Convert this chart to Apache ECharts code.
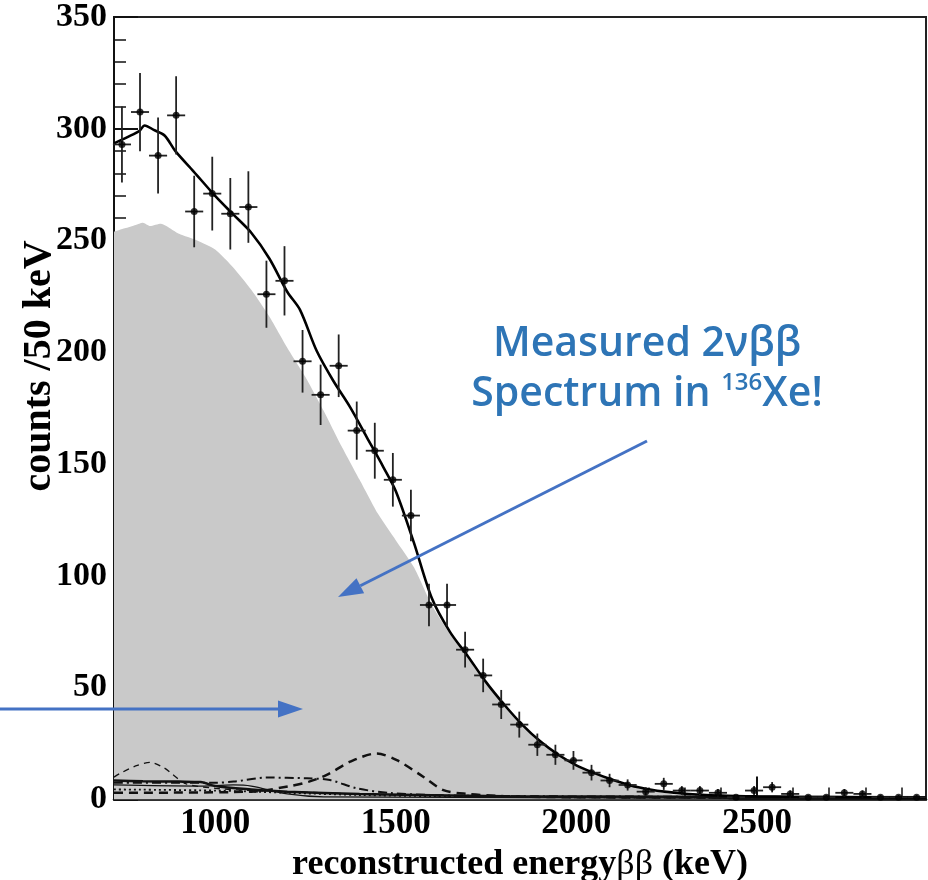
<!DOCTYPE html>
<html>
<head>
<meta charset="utf-8">
<script src="https://cdn.jsdelivr.net/npm/echarts@6/dist/echarts.min.js"></script>
<style>
html,body{margin:0;padding:0;background:#fff;}
#chart{width:928px;height:880px;}
</style>
</head>
<body>
<div id="chart"></div>
<script>
// ---- data ----
const xMajorTicks = [1000, 1500, 2000, 2500];
const xMinorTicks = [800, 900, 1100, 1200, 1300, 1400, 1600, 1700, 1800, 1900, 2100, 2200, 2300, 2400, 2600, 2700, 2800, 2900];

// measured counts (bin centre energies in keV)
const dataEnergy = [742, 792, 842, 892, 942, 992, 1042, 1092, 1142, 1192, 1242, 1292, 1342, 1392, 1442, 1492, 1542, 1592, 1642, 1692, 1742, 1792, 1842, 1892, 1942, 1992, 2042, 2092, 2142, 2192, 2242, 2292, 2342, 2392, 2442, 2492, 2542, 2592, 2642, 2692, 2742, 2792, 2842, 2892, 2942];
const dataCounts = [293, 307.5, 288, 306, 263, 271, 262, 265, 226, 232, 196, 181, 194, 165, 156, 143, 127, 87, 87, 67, 55.5, 42.5, 33.5, 24.5, 20, 17.5, 12, 8.5, 6.5, 3.5, 7, 4, 4, 3, 1, 4, 5.5, 2.5, 1, 1, 3, 2.5, 1, 1, 1];
const dataErrors = [17, 17.5, 17, 17.5, 16, 16.5, 16, 16, 15, 15.5, 14, 13.5, 14, 13, 12.5, 12, 11.5, 9.5, 9.5, 8, 7.5, 6.5, 5.8, 5, 4.5, 4.2, 3.5, 3, 2.5, 2, 2.7, 2, 2, 1.7, 1, 2, 2.3, 1.6, 1, 1, 1.7, 1.6, 1, 1, 1];
const binHalfWidth = 25;

// total fit curve
const fitEnergy = [720, 760, 790, 805, 830, 860, 890, 940, 1000, 1050, 1100, 1150, 1200, 1235, 1281, 1327, 1374, 1420, 1466, 1500, 1550, 1600, 1650, 1700, 1750, 1800, 1850, 1900, 1950, 2000, 2050, 2100, 2150, 2200, 2250, 2300, 2400, 2500, 2600, 2800, 2968];
const fitCounts = [293.5, 296.5, 299, 301.5, 299.5, 297, 290, 281, 270, 261.7, 253.5, 242, 227, 219, 200.7, 187.3, 175.4, 162, 148.6, 138, 115, 90, 75, 64, 52.5, 42.5, 33.5, 26, 20, 15.3, 11.8, 8.8, 6.3, 4.6, 3.4, 2.6, 1.8, 1.4, 1.2, 1.0, 0.9];

// 2vbb component (grey filled)
const bbEnergy = [720, 750, 780, 800, 820, 850, 880, 900, 950, 1000, 1050, 1100, 1150, 1200, 1250, 1300, 1350, 1400, 1450, 1500, 1550, 1600, 1650, 1700, 1750, 1800, 1850, 1900, 1950, 2000, 2050, 2100, 2150, 2200, 2250, 2300, 2350, 2400, 2450, 2968];
const bbCounts = [254, 255.5, 257, 258, 256.5, 257.5, 255, 253, 250, 246, 238, 228, 216, 202, 189, 174, 158, 143, 128, 116, 104, 87, 74, 63, 52, 42, 33.5, 26.5, 21, 15.5, 11.5, 8.5, 6, 4.2, 2.7, 1.6, 0.8, 0.3, 0, 0];

// background components
const bkgDashEnergy = [720, 1100, 1207, 1260, 1309, 1374, 1447, 1503, 1576, 1632, 1697, 1800, 2000, 2968];
const bkgDashCounts = [3, 3.5, 6, 8, 11, 16.9, 20.6, 17.6, 10.2, 4.2, 2.5, 1.5, 1, 0.8];
const bkgThinDashEnergy = [720, 735, 780, 820, 860, 880, 920, 1000, 1100, 1300, 1500, 2000, 2968];
const bkgThinDashCounts = [10, 11.5, 15, 16.6, 14, 11.5, 7, 5, 4, 3, 2, 1, 0.5];
const bkgDashDotEnergy = [720, 900, 1000, 1051, 1143, 1254, 1318, 1392, 1484, 1600, 1800, 2968];
const bkgDashDotCounts = [7.5, 7.5, 7.5, 8, 9.8, 9.5, 8.7, 5, 2.9, 2, 1.5, 1];
const bkgSolidEnergy = [720, 950, 1050, 1100, 1200, 1300, 2968];
const bkgSolidCounts = [6.5, 6, 6.5, 6, 2.5, 1.2, 0.5];
const bkgDotEnergy = [720, 1000, 1200, 1400, 1600, 2000, 2968];
const bkgDotCounts = [4.5, 4, 3, 2, 1.5, 1, 0.5];
const bkgThickEnergy = [720, 800, 900, 960, 1000, 1100, 1200, 1400, 1800, 2968];
const bkgThickCounts = [8.5, 8.2, 8, 7.8, 6, 4.5, 3.5, 2.5, 1.5, 1];

const xTitle = 'reconstructed energy';
const yTitle = 'counts /50 keV';
const noteLine1 = 'Measured 2νββ';
const noteLine2a = 'Spectrum in ';
const noteSup = '136';
const noteLine2b = 'Xe!';

// ---- build ----
function zip(a, b) { return a.map((v, i) => [v, b[i]]); }
const serif = '"Liberation Serif", "Times New Roman", serif';

function bkgSeries(ex, ey, type, width) {
  return {
    type: 'line', data: zip(ex, ey), symbol: 'none', smooth: 0.3,
    lineStyle: { color: '#111', width: width, type: type }, z: 3, silent: true
  };
}

const chart = echarts.init(document.getElementById('chart'), null, { renderer: 'canvas' });

// annotation layout (measure text)
const ctx = document.createElement('canvas').getContext('2d');
const mainFont = '600 41px "Open Sans"';
const supFont = '600 24px "Open Sans"';
ctx.font = mainFont;
const wA = ctx.measureText(noteLine2a).width;
const wC = ctx.measureText(noteLine2b).width;
ctx.font = supFont;
const wB = ctx.measureText(noteSup).width;
const noteCx = 647;
const l2Left = noteCx - (wA + wB + wC) / 2;
const blue = '#2e75b6';
const arrowBlue = '#4472c4';

function arrow(x1, y1, x2, y2) {
  const ang = Math.atan2(y2 - y1, x2 - x1);
  const hl = 25, hw = 8.5;
  const bx = x2 - hl * Math.cos(ang), by = y2 - hl * Math.sin(ang);
  const px = -Math.sin(ang), py = Math.cos(ang);
  return [
    { type: 'line', shape: { x1: x1, y1: y1, x2: bx, y2: by }, style: { stroke: arrowBlue, lineWidth: 3 }, z: 100 },
    { type: 'polygon', shape: { points: [[x2, y2], [bx + px * hw, by + py * hw], [bx - px * hw, by - py * hw]] }, style: { fill: arrowBlue }, z: 100 }
  ];
}

const plain = function (v) { return String(v); };

const option = {
  animation: false,
  backgroundColor: '#fff',
  grid: { left: 114, right: 2, top: 17, bottom: 80.5, show: true, borderColor: '#222', borderWidth: 2, backgroundColor: 'transparent', containLabel: false, outerBoundsMode: 'none' },
  xAxis: [
    {
      type: 'value', min: 720, max: 2968, position: 'bottom',
      axisLine: { show: true, lineStyle: { color: '#111', width: 2.5 } },
      axisTick: { show: true, inside: true, length: 23, customValues: xMajorTicks, lineStyle: { color: '#111', width: 2 } },
      axisLabel: { show: true, customValues: xMajorTicks, formatter: plain, margin: 7, color: '#000', fontFamily: serif, fontWeight: 'bold', fontSize: 35 },
      splitLine: { show: false },
      name: '{t|' + xTitle + '}{g|ββ}{t| (keV)}',
      nameLocation: 'middle', nameGap: 42,
      nameTextStyle: {
        rich: {
          t: { fontFamily: serif, fontWeight: 'bold', fontSize: 36, color: '#000' },
          g: { fontFamily: serif, fontWeight: 'normal', fontSize: 36, color: '#000' }
        }
      }
    },
    {
      type: 'value', min: 720, max: 2968, position: 'bottom',
      axisLine: { show: false },
      axisTick: { show: true, inside: true, length: 12, customValues: xMinorTicks, lineStyle: { color: '#111', width: 1.5 } },
      axisLabel: { show: false },
      splitLine: { show: false }
    }
  ],
  yAxis: {
    type: 'value', min: 0, max: 350, interval: 50,
    axisLine: { show: true, lineStyle: { color: '#111', width: 2 } },
    axisTick: { show: true, inside: true, length: 24, lineStyle: { color: '#111', width: 2 } },
    minorTick: { show: true, splitNumber: 5, length: 12, lineStyle: { color: '#111', width: 1.5 } },
    axisLabel: { margin: 7, formatter: plain, color: '#000', fontFamily: serif, fontWeight: 'bold', fontSize: 34 },
    splitLine: { show: false },
    minorSplitLine: { show: false }
  },
  series: [
    {
      type: 'line', data: zip(bbEnergy, bbCounts), symbol: 'none', smooth: 0.2,
      lineStyle: { width: 0 }, areaStyle: { color: '#c9c9c9', opacity: 1 }, z: 1, silent: true
    },
    bkgSeries(bkgThickEnergy, bkgThickCounts, 'solid', 2.5),
    bkgSeries(bkgSolidEnergy, bkgSolidCounts, 'solid', 1.2),
    bkgSeries(bkgDotEnergy, bkgDotCounts, [2, 3], 1.8),
    bkgSeries(bkgDashDotEnergy, bkgDashDotCounts, [9, 4, 2, 4], 2),
    bkgSeries(bkgThinDashEnergy, bkgThinDashCounts, [6, 5], 1.3),
    bkgSeries(bkgDashEnergy, bkgDashCounts, [9, 6], 2.5),
    {
      type: 'line', data: zip(fitEnergy, fitCounts), symbol: 'none', smooth: 0.3,
      lineStyle: { color: '#000', width: 2.6 }, z: 5, silent: true
    },
    {
      type: 'custom', z: 6, silent: true,
      data: dataEnergy.map((e, i) => [e, dataCounts[i], dataErrors[i]]),
      renderItem: function (params, api) {
        const x = api.value(0), y = api.value(1), er = api.value(2);
        const top = api.coord([x, y + er]);
        const bot = api.coord([x, Math.max(0, y - er)]);
        const l = api.coord([x - binHalfWidth, y]);
        const r = api.coord([x + binHalfWidth, y]);
        const st = { stroke: '#222', lineWidth: 1.8 };
        return {
          type: 'group', children: [
            { type: 'line', shape: { x1: top[0], y1: top[1], x2: bot[0], y2: bot[1] }, style: st },
            { type: 'line', shape: { x1: l[0], y1: l[1], x2: r[0], y2: r[1] }, style: st }
          ]
        };
      }
    },
    {
      type: 'scatter', data: zip(dataEnergy, dataCounts), symbol: 'circle', symbolSize: 7,
      itemStyle: { color: '#000' }, z: 7, silent: true
    }
  ],
  graphic: [
    { type: 'text', z: 100, x: 40, y: 366, rotation: Math.PI / 2, style: { x: 0, y: 0, text: yTitle, font: 'bold 40px ' + serif, fill: '#000', align: 'center', verticalAlign: 'middle' } },
    { type: 'text', z: 100, style: { x: noteCx, y: 344, text: noteLine1, font: mainFont, fill: blue, align: 'center', verticalAlign: 'middle' } },
    { type: 'text', z: 100, style: { x: l2Left, y: 394, text: noteLine2a, font: mainFont, fill: blue, align: 'left', verticalAlign: 'middle' } },
    { type: 'text', z: 100, style: { x: l2Left + wA, y: 383, text: noteSup, font: supFont, fill: blue, align: 'left', verticalAlign: 'middle' } },
    { type: 'text', z: 100, style: { x: l2Left + wA + wB, y: 394, text: noteLine2b, font: mainFont, fill: blue, align: 'left', verticalAlign: 'middle' } }
  ].concat(arrow(647, 441, 338, 597)).concat(arrow(0, 709, 303, 709))
};
chart.setOption(option);
</script>
</body>
</html>
